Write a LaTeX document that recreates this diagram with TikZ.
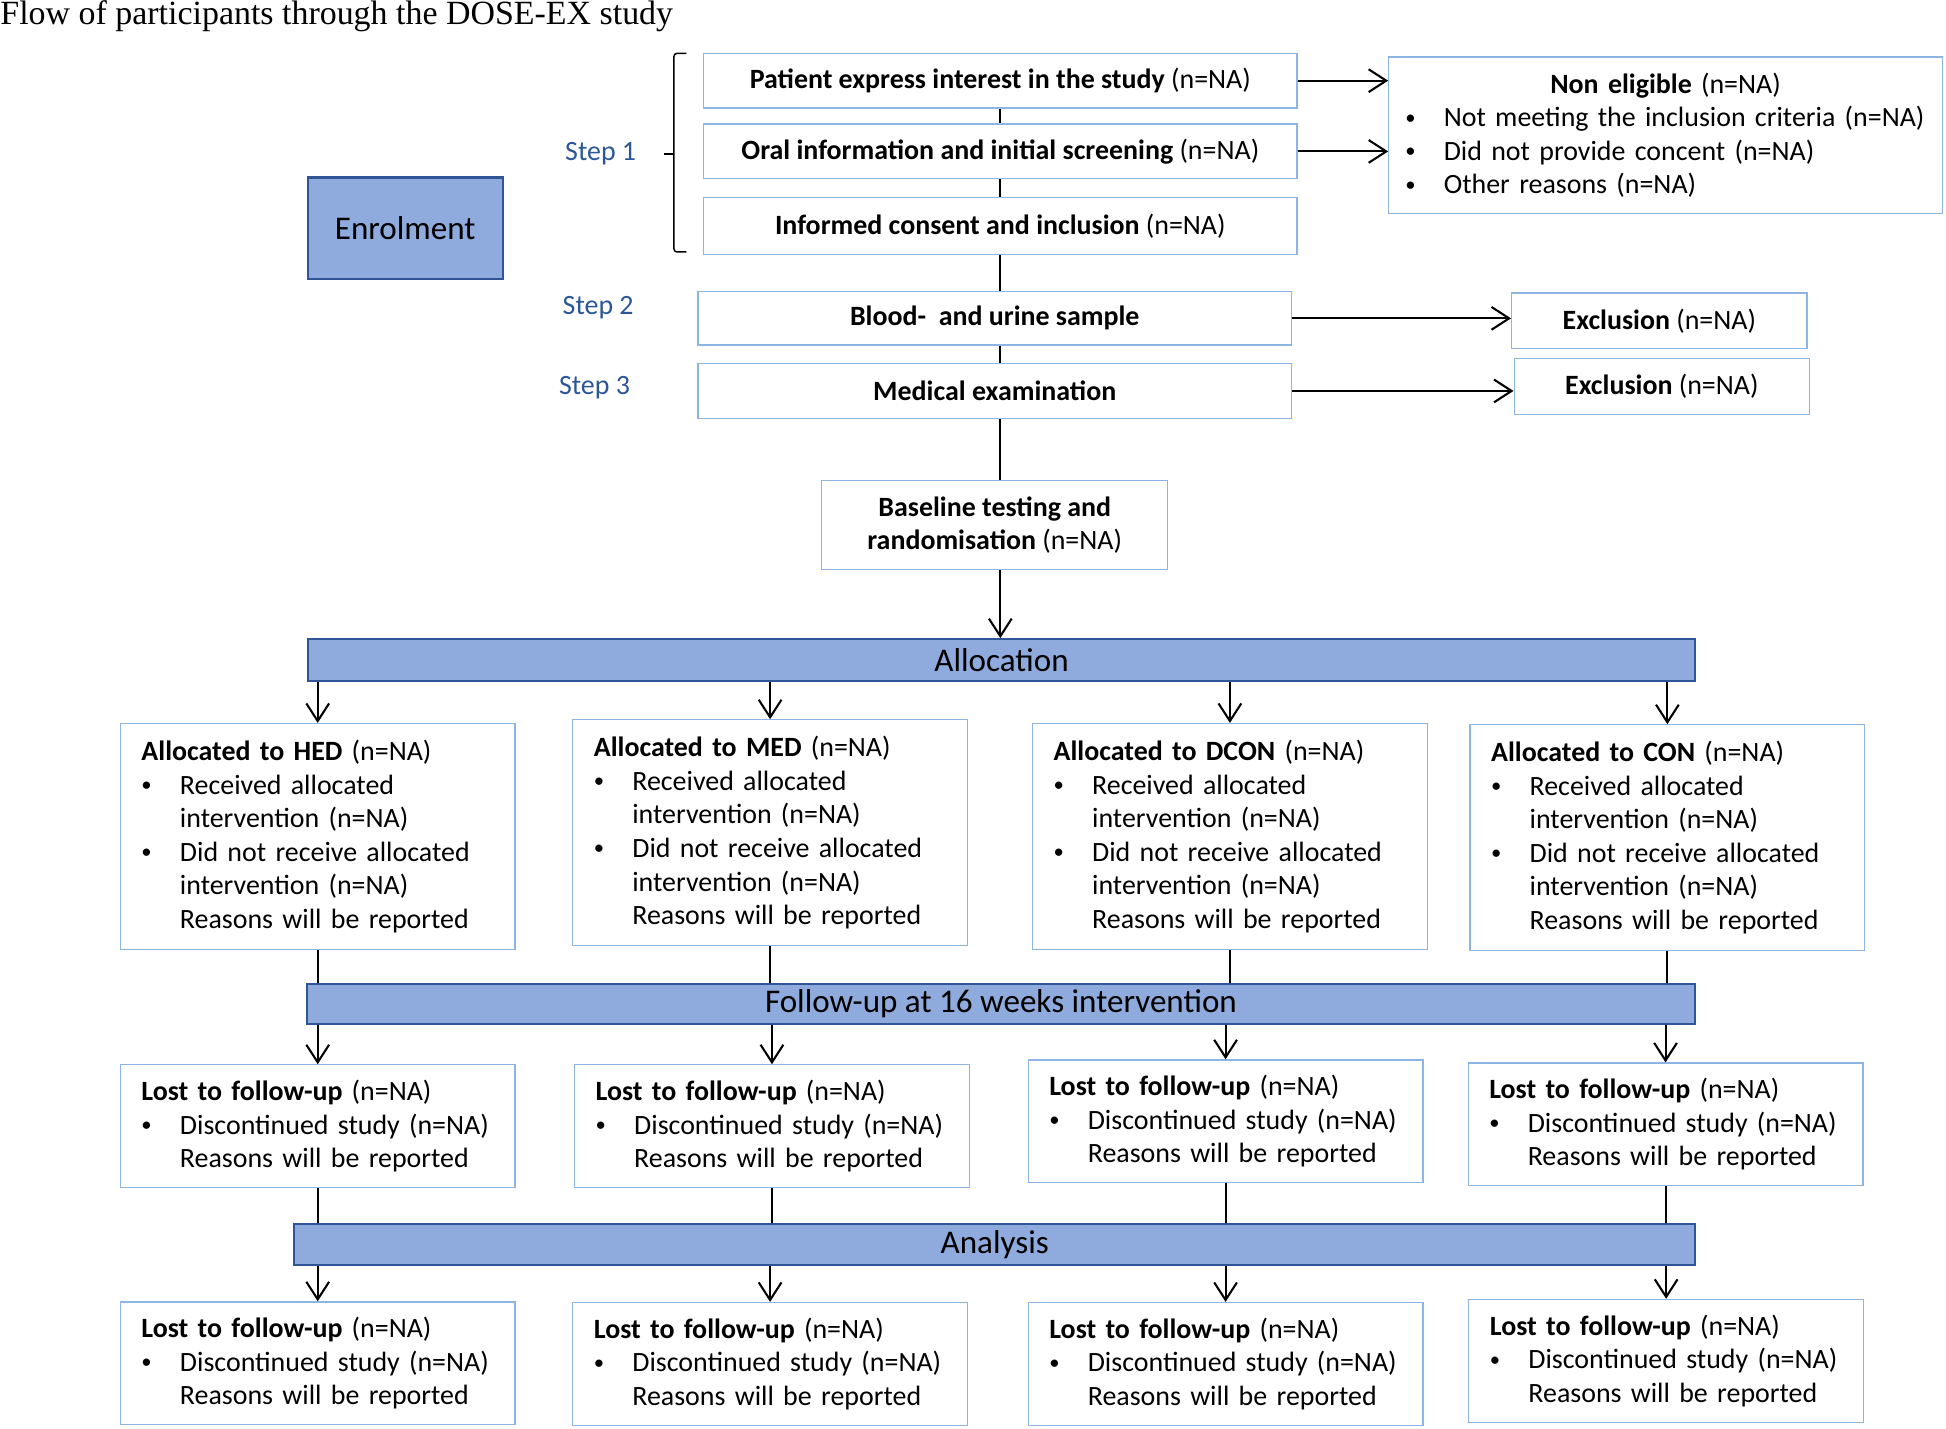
\documentclass[tikz,border=0pt]{standalone}
\usepackage{fontspec}
\setmainfont{Carlito}
\newfontfamily\titlefont{Liberation Serif}
\usetikzlibrary{positioning,arrows.meta}

\definecolor{barfill}{HTML}{8FAADC}
\definecolor{barline}{HTML}{2F5597}
\definecolor{boxline}{HTML}{8EB4E3}
\definecolor{steptext}{HTML}{2B5797}

\newcommand{\bul}{\makebox[18.6pt][l]{\raisebox{1.3pt}{\fontsize{10}{12}\selectfont\textbullet}}}
\newcommand{\ind}{\hspace*{18.6pt}}

\tikzset{
	stepbox/.style={rectangle, draw=boxline, line width=0.6pt, minimum width=286.8pt, minimum height=26.4pt, inner sep=0pt, font=\fontsize{13.5}{16.2}\selectfont},
	armbox/.style={rectangle, draw=boxline, line width=0.6pt, minimum width=190.8pt, minimum height=109.2pt, inner xsep=10.2pt, inner ysep=0pt, text width=170.4pt, align=left, font=\fontsize{13.5}{16.2}\selectfont},
	lossbox/.style={armbox, minimum height=59.4pt},
	phasebar/.style={rectangle, draw=barline, line width=1pt, fill=barfill, inner sep=0pt, font=\fontsize{16}{19}\selectfont},
	steplabel/.style={text=steptext, inner sep=0pt, font=\fontsize{13.5}{16.2}\selectfont},
	arr/.style={line width=1pt, -{Straight Barb[length=8.5pt,width=11pt]}},
	link/.style={line width=1pt}
}

\begin{document}
\begin{tikzpicture}[x=0.6pt, y=-0.6pt]
	\useasboundingbox (0,0) rectangle (1568,1151);
	\node (title) [anchor=base west, inner sep=0pt, font=\titlefont\fontsize{16.4}{19}\selectfont] at (0,20) {Flow of participants through the DOSE-EX study};
	
	% Enrolment and the three steps
	\node (enrol) [phasebar, minimum width=94.2pt, minimum height=49.2pt] at (326.5,184) {Enrolment};
	\node (step1) [steplabel] at (484,124) {Step 1};
	\node (step2) [steplabel] at (482,248) {Step 2};
	\node (step3) [steplabel] at (479,312) {Step 3};
	\draw[link, line width=0.7pt, rounded corners=1.5pt] (553,43) -- (543,43) -- (543,203) -- (553,203);
	\draw[link, line width=0.7pt] (543,124) -- (535,124);
	
	\node (interest) [stepbox] at (806,65) {\textbf{Patient express interest in the study} (n=NA)};
	\node (oral) [stepbox, below=7.2pt of interest] {\textbf{Oral information and initial screening} (n=NA)};
	\node (consent) [stepbox, minimum height=27.6pt, below=8.4pt of oral] {\textbf{Informed consent and inclusion} (n=NA)};
	\node (nonelig) [armbox, minimum width=267.6pt, minimum height=75.6pt, inner xsep=8pt, text width=251.6pt] at (1342,109) {\makebox[\linewidth]{\textbf{Non eligible} (n=NA)}\\
		\bul Not meeting the inclusion criteria (n=NA)\\
		\bul Did not provide concent (n=NA)\\
		\bul Other reasons (n=NA)};
	
	\node (blood) [stepbox, minimum height=25.8pt] at (801.5,256.5) {\textbf{Blood-~ and urine sample}};
	\node (medical) [stepbox, below=8.4pt of blood] {\textbf{Medical examination}};
	\node (excl1) [stepbox, minimum width=142.8pt, minimum height=27pt] at (1337,258.5) {\textbf{Exclusion} (n=NA)};
	\node (excl2) [stepbox, minimum width=142.8pt, minimum height=27pt] at (1339,311.5) {\textbf{Exclusion} (n=NA)};
	\node (baseline) [stepbox, minimum width=167.4pt, minimum height=43.2pt, align=center, below=29.4pt of medical] {\textbf{Baseline testing and}\\\textbf{randomisation} (n=NA)};
	
	\path[link] (interest.south) edge (oral.north);
	\path[link] (oral.south) edge (consent.north);
	\path[link] (consent.south) edge (consent.south |- blood.north);
	\path[link] (consent.south |- blood.south) edge (consent.south |- medical.north);
	\path[link] (consent.south |- medical.south) edge (consent.south |- baseline.north);
	\path[arr] (interest.east) edge (interest.east -| nonelig.west);
	\path[arr] (oral.east) edge (oral.east -| nonelig.west);
	\path[arr] (blood.east) edge (blood.east -| excl1.west);
	\path[arr] (medical.east) edge (medical.east -| excl2.west);
	
	% Allocation to the four arms
	\node (alloc) [phasebar, minimum width=670.8pt, minimum height=20.4pt] at (807,532) {Allocation};
	\path[arr] (baseline.south -| consent.south) edge (alloc.north -| consent.south);
	
	\node (hed) [armbox] at (256,674) {\textbf{Allocated to HED} (n=NA)\\
		\bul Received allocated\\ \ind intervention (n=NA)\\
		\bul Did not receive allocated\\ \ind intervention (n=NA)\\
		\ind Reasons will be reported};
	\node (med) [armbox] at (620.5,671) {\textbf{Allocated to MED} (n=NA)\\
		\bul Received allocated\\ \ind intervention (n=NA)\\
		\bul Did not receive allocated\\ \ind intervention (n=NA)\\
		\ind Reasons will be reported};
	\node (dcon) [armbox] at (991,674) {\textbf{Allocated to DCON} (n=NA)\\
		\bul Received allocated\\ \ind intervention (n=NA)\\
		\bul Did not receive allocated\\ \ind intervention (n=NA)\\
		\ind Reasons will be reported};
	\node (con) [armbox] at (1343.5,675) {\textbf{Allocated to CON} (n=NA)\\
		\bul Received allocated\\ \ind intervention (n=NA)\\
		\bul Did not receive allocated\\ \ind intervention (n=NA)\\
		\ind Reasons will be reported};
	
	\path[arr] (alloc.south -| hed.north) edge (hed.north);
	\path[arr] (alloc.south -| med.north) edge (med.north);
	\path[arr] (alloc.south -| dcon.north) edge (dcon.north);
	\path[arr] (alloc.south -| con.north) edge (con.north);
	
	% Follow-up
	\node (follow) [phasebar, minimum width=671.4pt, minimum height=19.2pt] at (806.5,809) {Follow-up at 16 weeks intervention};
	\path[link] (hed.south) edge (hed.south |- follow.north);
	\path[link] (med.south) edge (med.south |- follow.north);
	\path[link] (dcon.south) edge (dcon.south |- follow.north);
	\path[link] (con.south) edge (con.south |- follow.north);
	
	\node (losthed) [lossbox] at (256,907.5) {\textbf{Lost to follow-up} (n=NA)\\
		\bul Discontinued study (n=NA)\\ \ind Reasons will be reported};
	\node (lostmed) [lossbox] at (622,907.5) {\textbf{Lost to follow-up} (n=NA)\\
		\bul Discontinued study (n=NA)\\ \ind Reasons will be reported};
	\node (lostdcon) [lossbox] at (987.5,903.5) {\textbf{Lost to follow-up} (n=NA)\\
		\bul Discontinued study (n=NA)\\ \ind Reasons will be reported};
	\node (lostcon) [lossbox] at (1342,906) {\textbf{Lost to follow-up} (n=NA)\\
		\bul Discontinued study (n=NA)\\ \ind Reasons will be reported};
	
	\path[arr] (follow.south -| losthed.north) edge (losthed.north);
	\path[arr] (follow.south -| lostmed.north) edge (lostmed.north);
	\path[arr] (follow.south -| lostdcon.north) edge (lostdcon.north);
	\path[arr] (follow.south -| lostcon.north) edge (lostcon.north);
	
	% Analysis
	\node (analysis) [phasebar, minimum width=677.4pt, minimum height=19.8pt] at (801.5,1002.5) {Analysis};
	\path[link] (losthed.south) edge (losthed.south |- analysis.north);
	\path[link] (lostmed.south) edge (lostmed.south |- analysis.north);
	\path[link] (lostdcon.south) edge (lostdcon.south |- analysis.north);
	\path[link] (lostcon.south) edge (lostcon.south |- analysis.north);
	
	\node (endhed) [lossbox] at (256,1098.5) {\textbf{Lost to follow-up} (n=NA)\\
		\bul Discontinued study (n=NA)\\ \ind Reasons will be reported};
	\node (endmed) [lossbox] at (620.5,1099) {\textbf{Lost to follow-up} (n=NA)\\
		\bul Discontinued study (n=NA)\\ \ind Reasons will be reported};
	\node (enddcon) [lossbox] at (987.5,1099) {\textbf{Lost to follow-up} (n=NA)\\
		\bul Discontinued study (n=NA)\\ \ind Reasons will be reported};
	\node (endcon) [lossbox] at (1342.5,1096.5) {\textbf{Lost to follow-up} (n=NA)\\
		\bul Discontinued study (n=NA)\\ \ind Reasons will be reported};
	
	\path[arr] (analysis.south -| endhed.north) edge (endhed.north);
	\path[arr] (analysis.south -| endmed.north) edge (endmed.north);
	\path[arr] (analysis.south -| enddcon.north) edge (enddcon.north);
	\path[arr] (analysis.south -| endcon.north) edge (endcon.north);
\end{tikzpicture}
\end{document}
